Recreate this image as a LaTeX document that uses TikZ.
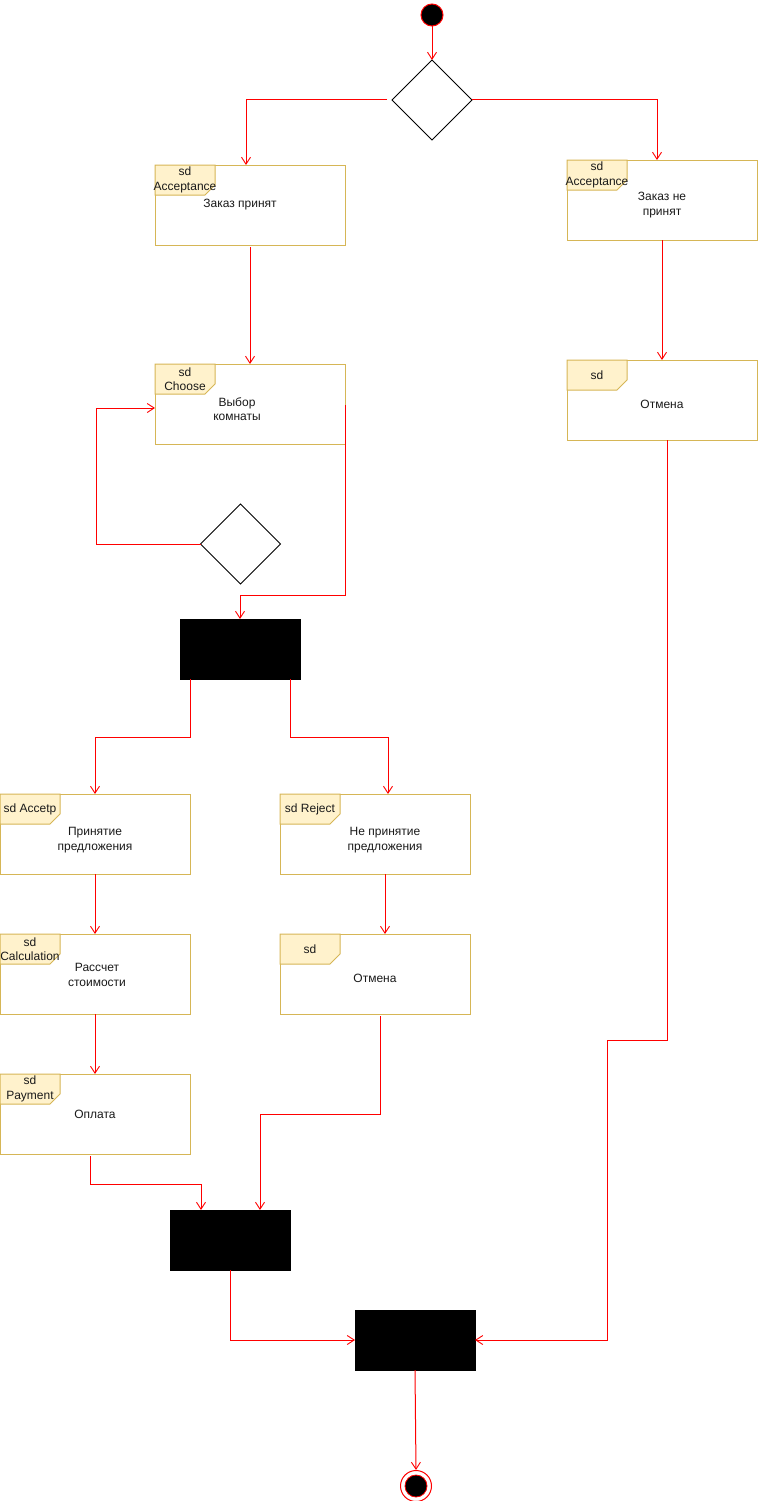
\documentclass[tikz,border=0pt]{standalone}
\usepackage{fontspec}
\setmainfont{Liberation Sans}
\usetikzlibrary{arrows.meta,shapes.geometric}
\definecolor{frameline}{HTML}{D6B656}
\definecolor{tabfill}{HTML}{FFF2CC}
\definecolor{txt}{HTML}{1A1A1A}
\newcommand\sdtab[2]{%
  \filldraw[fill=tabfill,draw=frameline,line width=1pt] (#1.north west) -- ++(60,0) -- ++(0,20) -- ++(-10,10) -- ++(-60+10,0) -- cycle;
  \node[tabtext] (#1tab) at ([xshift=30pt,yshift=-15pt]#1.north west) {#2};}
\begin{document}
\begin{tikzpicture}[x=1pt,y=-1pt,
  every node/.style={font=\fontsize{12}{14.5}\selectfont,text=txt},
  frame/.style={draw=frameline,line width=1pt,rectangle,minimum width=190pt,minimum height=80pt,inner sep=0pt,outer sep=0pt,fill=white},
  tabtext/.style={align=center,inner sep=0pt,font=\fontsize{12}{14.5}\selectfont},
  lbl/.style={align=center,inner sep=0pt},
  dec/.style={shape=diamond,draw=black,line width=1pt,minimum width=80pt,minimum height=80pt,inner sep=0pt,outer sep=0pt},
  bar/.style={rectangle,fill=black,draw=black,minimum width=120pt,minimum height=60pt,inner sep=0pt,outer sep=0pt},
  conn/.style={draw=red,line width=1pt,-{Straight Barb[length=7pt,width=9pt,line width=0.9pt]}}]
\useasboundingbox (0,0) rectangle (758,1501);
% start
\node[circle,fill=black,draw=red,line width=1pt,minimum size=22pt,inner sep=0pt] (start) at (432,15) {};
\node[dec] (d1) at (432,100) {};
% frames
\node[frame] (b1) at (250,205) {};
\node[frame] (b2) at (662,200) {};
\node[frame] (b3) at (250,404) {};
\node[frame] (b4) at (662,400) {};
\node[frame] (b5) at (95,834) {};
\node[frame] (b6) at (375,834) {};
\node[frame] (b7) at (95,974) {};
\node[frame] (b8) at (375,974) {};
\node[frame] (b9) at (95,1114) {};
\sdtab{b1}{sd\\Acceptance}
\sdtab{b2}{sd\\Acceptance}
\sdtab{b3}{sd\\Choose}
\sdtab{b4}{sd}
\sdtab{b5}{sd Accetp}
\sdtab{b6}{sd Reject}
\sdtab{b7}{sd\\Calculation}
\sdtab{b8}{sd}
\sdtab{b9}{sd\\Payment}
% labels
\node[lbl] (t1) at (240,205) {Заказ принят};
\node[lbl] (t2) at (662,205) {Заказ не\\принят};
\node[lbl] (t3) at (237,409) {Выбор\\комнаты};
\node[lbl] (t4) at (662,404) {Отмена};
\node[lbl] (t5) at (95,840) {Принятие\\предложения};
\node[lbl] (t6) at (385,840) {Не принятие\\предложения};
\node[lbl] (t7) at (97,975) {Рассчет\\стоимости};
\node[lbl] (t8) at (375,978) {Отмена};
\node[lbl] (t9) at (95,1114) {Оплата};
% decision 2
\node[dec] (d2) at (240.5,544) {};
% bars
\node[bar] (bar1) at (240,649) {};
\node[bar] (bar2) at (230,1240) {};
\node[bar] (bar3) at (415,1340) {};
% end
\node[circle,draw=red,line width=1pt,minimum size=31pt,inner sep=0pt] (endo) at (416,1486) {};
\node[circle,fill=black,draw=red,line width=0.8pt,minimum size=22pt,inner sep=0pt] (endi) at (416,1486) {};
% helper coordinates
\coordinate (k1) at (345,595);
\coordinate (k2) at (96,408);
\coordinate (k3) at (607,1040);
% connectors
\draw[conn] (start.south) -- (d1.north);
\draw[conn] ([xshift=-5pt]d1.west) -| ([xshift=-4pt]b1.north);
\draw[conn] (d1.east) -| ([xshift=-5pt]b2.north);
\draw[conn] ([yshift=-2pt]b1.south) -- (b3.north);
\draw[conn] (b2.south) -- (b4.north);
\draw[conn] ([yshift=-1pt]b3.east) -- (k1) -| (bar1.north);
\draw[conn] (d2.west) -| (k2) -- ([yshift=-4pt]b3.west);
\draw[conn] ([xshift=-50pt]bar1.south) -- ++(0,58) -| (b5.north);
\draw[conn] ([xshift=50pt]bar1.south) -- ++(0,58) -| ([xshift=13pt]b6.north);
\draw[conn] (b5.south) -- (b7.north);
\draw[conn] ([xshift=10pt]b6.south) -- ([xshift=10pt]b8.north);
\draw[conn] (b7.south) -- (b9.north);
\draw[conn] ([xshift=-5pt,yshift=-2pt]b9.south) -- ++(0,28) -| ([xshift=-29pt]bar2.north);
\draw[conn] ([xshift=5pt,yshift=-2pt]b8.south) -- ++(0,98) -| ([xshift=30pt]bar2.north);
\draw[conn] (bar2.south) |- (bar3.west);
\draw[conn] ([xshift=5pt]b4.south) |- (k3) |- (bar3.east);
\draw[conn] (bar3.south) -- (endo.north);
\end{tikzpicture}
\end{document}
